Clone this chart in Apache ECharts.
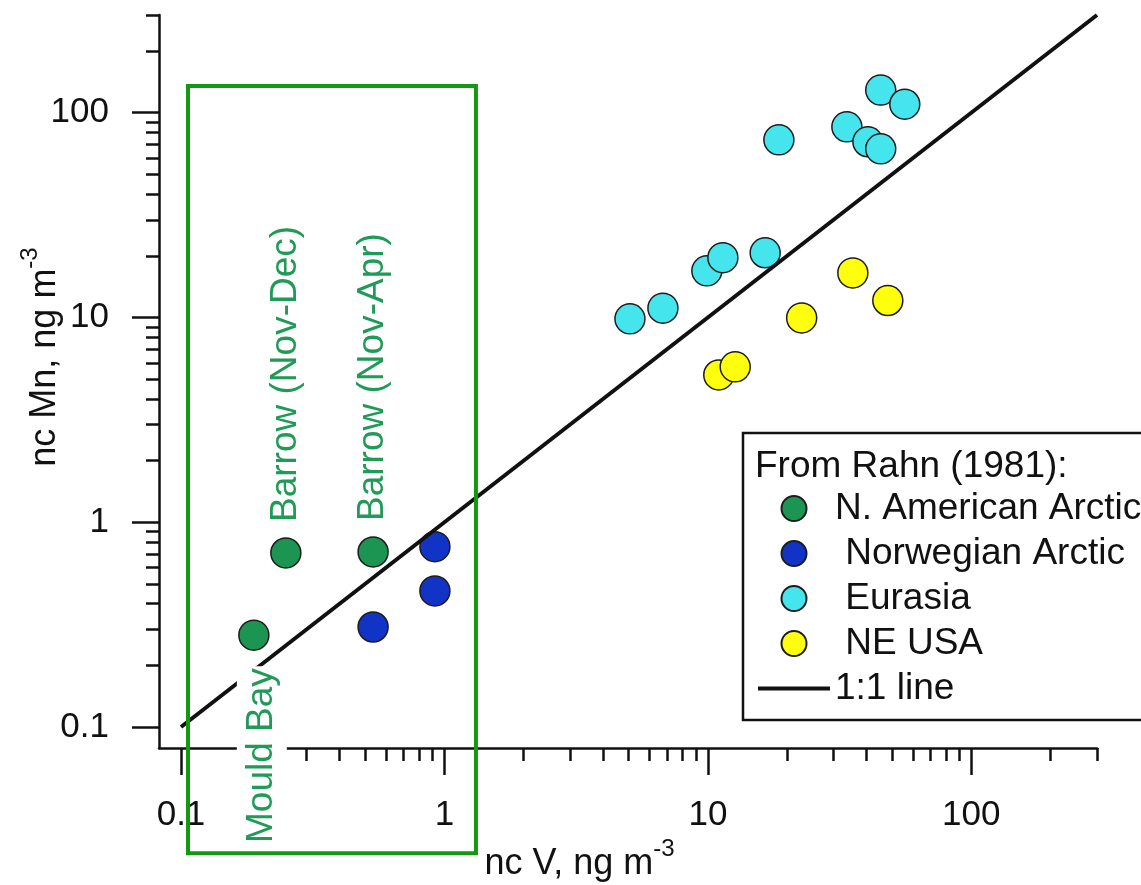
<!DOCTYPE html>
<html>
<head>
<meta charset="utf-8">
<title>nc Mn vs nc V</title>
<script src="https://cdn.jsdelivr.net/npm/echarts@6/dist/echarts.min.js"></script>
<style>
  html, body { margin: 0; padding: 0; background: #fff; }
  #chart { width: 1141px; height: 885px; }
</style>
</head>
<body>
<div id="chart"></div>
<script>
// ------------------- //
// Data (ng m-3)
// ------------------- //
const naArcticV = [0.189, 0.250, 0.536];
const naArcticMn = [0.281, 0.708, 0.716];
const naArcticSites = ["Mould Bay", "Barrow (Nov-Dec)", "Barrow (Nov-Apr)"];

const norArcticV = [0.536, 0.920, 0.920];
const norArcticMn = [0.308, 0.760, 0.462];

const eurasiaV = [5.06, 6.75, 9.91, 11.4, 16.5, 18.6, 33.7, 40.5, 45.3, 45.3, 55.9];
const eurasiaMn = [9.85, 11.1, 16.9, 19.6, 20.7, 73.7, 85.3, 72.1, 66.6, 129, 110];

const neUsaV = [11.0, 12.7, 22.7, 35.5, 48.2];
const neUsaMn = [5.24, 5.74, 9.95, 16.5, 12.1];

// 1:1 reference line end points
const lineV = [0.1, 300];
const lineMn = [0.1, 300];

// axis ranges and ticks
const xRange = [0.0825, 300];
const yRange = [0.079, 300];
const majorTicks = [0.1, 1, 10, 100];
const minorTicks = [0.2, 0.3, 0.4, 0.5, 0.6, 0.7, 0.8, 0.9,
                    2, 3, 4, 5, 6, 7, 8, 9,
                    20, 30, 40, 50, 60, 70, 80, 90,
                    200, 300];

// green box round the Arctic sites (data coords)
const boxV = [0.1063, 1.317];
const boxMn = [0.0242, 135];

// legend names (leading spaces as in the original)
const seriesNames = ["N. American Arctic", " Norwegian Arctic", " Eurasia", " NE USA", "1:1 line"];
const seriesColours = ["#1d9552", "#1234c6", "#45e5ee", "#ffff0c"];

const FONT = "'Liberation Sans', Arial, sans-serif";
const INK = "#111";

function pairs(xs, ys) {
    return xs.map((x, i) => [x, ys[i]]);
}

function pointSeries(name, xs, ys, colour) {
    return {
        name: name,
        type: "scatter",
        data: pairs(xs, ys),
        symbol: "circle",
        symbolSize: 30,
        itemStyle: { color: colour, borderColor: "#1c1c1c", borderWidth: 1.5, opacity: 1 },
        emphasis: { disabled: true },
        z: 2
    };
}

// Major axis: line, long ticks, labels
function majorAxis(range, extra) {
    return Object.assign({
        type: "log",
        logBase: 10,
        min: range[0],
        max: range[1],
        nameMoveOverlap: false,
        axisLine: { show: true, onZero: false, lineStyle: { color: INK, width: 2.5 } },
        axisTick: { show: true, inside: false, length: 27, customValues: majorTicks, lineStyle: { color: INK, width: 2.5 } },
        axisLabel: {
            show: true,
            customValues: majorTicks,
            formatter: v => (v < 1 ? v.toFixed(1) : String(Math.round(v))),
            fontSize: 35,
            fontFamily: FONT,
            color: INK,
            margin: 50
        },
        splitLine: { show: false },
        minorTick: { show: false }
    }, extra);
}

// Minor axis: short ticks only
function minorAxis(range, extra) {
    return Object.assign({
        type: "log",
        logBase: 10,
        min: range[0],
        max: range[1],
        axisLine: { show: false, onZero: false },
        axisTick: { show: true, inside: false, length: 13, customValues: minorTicks, lineStyle: { color: INK, width: 2.5 } },
        axisLabel: { show: false },
        splitLine: { show: false },
        minorTick: { show: false }
    }, extra);
}

// axis titles: main text + raised "-3"
const nameRich = {
    a: { fontSize: 36, lineHeight: 54, fontFamily: FONT, color: INK },
    b: { fontSize: 24, lineHeight: 24, fontFamily: FONT, color: INK, verticalAlign: "top" }
};

const chart = echarts.init(document.getElementById("chart"));

const option = {
    animation: false,
    backgroundColor: "#fff",

    // GRID
    grid: { left: 159, right: 44, top: 15, bottom: 137, containLabel: false, outerBoundsMode: "none" },

    // LEGEND TITLE
    title: {
        text: "From Rahn (1981):",
        left: 755,
        top: 448,
        padding: 0,
        textStyle: { fontSize: 37, fontWeight: "normal", fontFamily: FONT, color: INK }
    },

    // LEGEND
    legend: {
        data: seriesNames.slice(0, 4).concat([{ name: seriesNames[4], icon: "path://M0,0L72,0L72,4L0,4Z" }]),
        orient: "vertical",
        left: 743,
        top: 433,
        padding: [57, 300, 13, 15],
        itemWidth: 72,
        itemHeight: 25,
        itemGap: 8,
        borderColor: INK,
        borderWidth: 2.5,
        backgroundColor: "#fff",
        selectedMode: false,
        textStyle: { fontSize: 37, fontFamily: FONT, color: INK }
    },

    // XAXIS
    xAxis: [
        majorAxis(xRange, {
            position: "bottom",
            name: "{a|nc V, ng m}{b|-3}",
            nameLocation: "middle",
            nameGap: 89,
            nameTextStyle: { rich: nameRich, padding: [0, 97, 0, 0] }
        }),
        minorAxis(xRange, { position: "bottom" })
    ],

    // YAXIS
    yAxis: [
        majorAxis(yRange, {
            position: "left",
            name: "{a|nc Mn, ng m}{b|-3}",
            nameLocation: "middle",
            nameRotate: 90,
            nameGap: 87,
            nameTextStyle: { rich: nameRich, padding: [0, 0, 0, 49] }
        }),
        minorAxis(yRange, { position: "left" })
    ],

    // SERIES
    series: [
        pointSeries(seriesNames[0], naArcticV, naArcticMn, seriesColours[0]),
        pointSeries(seriesNames[1], norArcticV, norArcticMn, seriesColours[1]),
        pointSeries(seriesNames[2], eurasiaV, eurasiaMn, seriesColours[2]),
        pointSeries(seriesNames[3], neUsaV, neUsaMn, seriesColours[3]),
        {
            name: seriesNames[4],
            type: "line",
            data: pairs(lineV, lineMn),
            symbol: "none",
            lineStyle: { color: INK, width: 4 },
            itemStyle: { color: INK },
            emphasis: { disabled: true },
            z: 3
        },
        // site names of the N. American points
        {
            name: "sites",
            type: "scatter",
            data: naArcticV.map((v, i) => ({
                value: [v, naArcticMn[i]],
                label: i === 0
                    ? { position: "bottom", align: "right", offset: [0, 8], backgroundColor: "#fff", padding: [4, 2, 4, 2], lineHeight: 42 }
                    : { position: "top", align: "left" }
            })),
            symbolSize: 30,
            itemStyle: { color: "rgba(0,0,0,0)", borderWidth: 0 },
            label: {
                show: true,
                formatter: p => naArcticSites[p.dataIndex],
                rotate: 90,
                verticalAlign: "middle",
                distance: 16,
                fontSize: 37,
                fontFamily: FONT,
                color: "#1f9a57",
                opacity: 1
            },
            emphasis: { disabled: true },
            silent: true,
            z: 10
        }
    ]
};

chart.setOption(option);

// Green box drawn from data coordinates
const corner1 = chart.convertToPixel({ seriesIndex: 0 }, [boxV[0], boxMn[1]]);
const corner2 = chart.convertToPixel({ seriesIndex: 0 }, [boxV[1], boxMn[0]]);
chart.setOption({
    graphic: [{
        type: "rect",
        z: 50,
        silent: true,
        shape: { x: corner1[0], y: corner1[1], width: corner2[0] - corner1[0], height: corner2[1] - corner1[1] },
        style: { fill: "none", stroke: "#119911", lineWidth: 4 }
    }]
});
</script>
</body>
</html>
